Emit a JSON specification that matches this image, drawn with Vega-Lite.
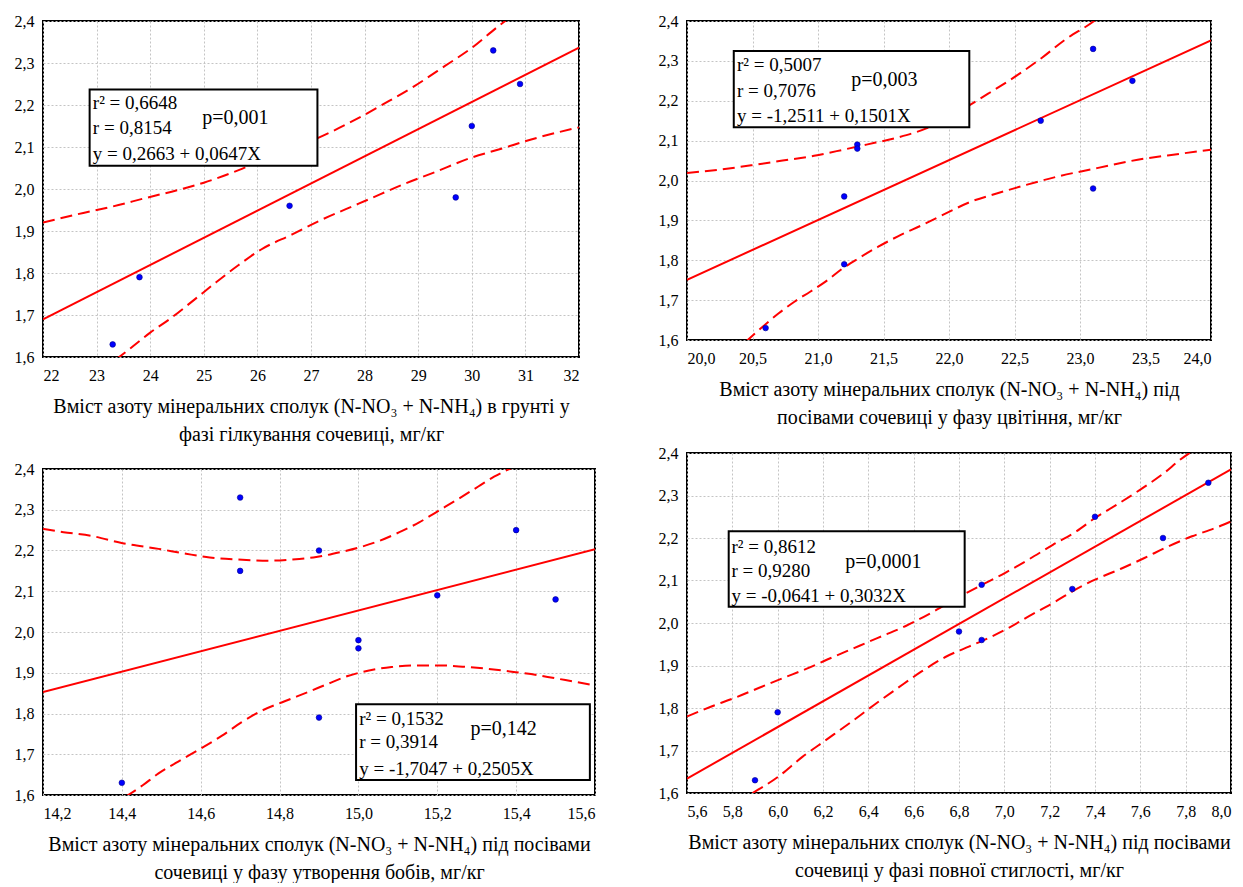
{
  "$schema": "https://vega.github.io/schema/vega-lite/v6.json",
  "background": "white",
  "padding": {"left": 13, "top": 12, "right": 0, "bottom": 0},
  "config": {
    "view": {"stroke": "black", "strokeWidth": 2},
    "font": "Liberation Serif",
    "axis": {
      "labelFont": "Liberation Serif",
      "labelFontSize": 16,
      "labelColor": "black",
      "titleFont": "Liberation Serif",
      "titleFontSize": 20,
      "titleFontWeight": "normal",
      "titleColor": "black",
      "titleLineHeight": 28,
      "grid": true,
      "gridColor": "#c4c4c4",
      "gridDash": [2, 2],
      "gridWidth": 1,
      "domain": false,
      "ticks": false,
      "labelPadding": 9
    },
    "axisX": {"labelPadding": 10, "titlePadding": 13},
    "tick": {"thickness": 1, "color": "black", "opacity": 1}
  },
  "datasets": {
    "yt": [
      {"v": 1.625}, {"v": 1.65}, {"v": 1.675}, {"v": 1.7}, {"v": 1.725}, {"v": 1.75}, {"v": 1.775},
      {"v": 1.8}, {"v": 1.825}, {"v": 1.85}, {"v": 1.875}, {"v": 1.9}, {"v": 1.925}, {"v": 1.95},
      {"v": 1.975}, {"v": 2.0}, {"v": 2.025}, {"v": 2.05}, {"v": 2.075}, {"v": 2.1}, {"v": 2.125},
      {"v": 2.15}, {"v": 2.175}, {"v": 2.2}, {"v": 2.225}, {"v": 2.25}, {"v": 2.275}, {"v": 2.3},
      {"v": 2.325}, {"v": 2.35}, {"v": 2.375}
    ],
    "p1_xt": [
      {"v": 22.25}, {"v": 22.5}, {"v": 22.75}, {"v": 23}, {"v": 23.25}, {"v": 23.5}, {"v": 23.75},
      {"v": 24}, {"v": 24.25}, {"v": 24.5}, {"v": 24.75}, {"v": 25}, {"v": 25.25}, {"v": 25.5},
      {"v": 25.75}, {"v": 26}, {"v": 26.25}, {"v": 26.5}, {"v": 26.75}, {"v": 27}, {"v": 27.25},
      {"v": 27.5}, {"v": 27.75}, {"v": 28}, {"v": 28.25}, {"v": 28.5}, {"v": 28.75}, {"v": 29},
      {"v": 29.25}, {"v": 29.5}, {"v": 29.75}, {"v": 30}, {"v": 30.25}, {"v": 30.5}, {"v": 30.75},
      {"v": 31}, {"v": 31.25}, {"v": 31.5}, {"v": 31.75}
    ],
    "p2_xt": [
      {"v": 20.1}, {"v": 20.2}, {"v": 20.3}, {"v": 20.4}, {"v": 20.5}, {"v": 20.6}, {"v": 20.7},
      {"v": 20.8}, {"v": 20.9}, {"v": 21.0}, {"v": 21.1}, {"v": 21.2}, {"v": 21.3}, {"v": 21.4},
      {"v": 21.5}, {"v": 21.6}, {"v": 21.7}, {"v": 21.8}, {"v": 21.9}, {"v": 22.0}, {"v": 22.1},
      {"v": 22.2}, {"v": 22.3}, {"v": 22.4}, {"v": 22.5}, {"v": 22.6}, {"v": 22.7}, {"v": 22.8},
      {"v": 22.9}, {"v": 23.0}, {"v": 23.1}, {"v": 23.2}, {"v": 23.3}, {"v": 23.4}, {"v": 23.5},
      {"v": 23.6}, {"v": 23.7}, {"v": 23.8}, {"v": 23.9}
    ],
    "p3_xt": [
      {"v": 14.3}, {"v": 14.4}, {"v": 14.5}, {"v": 14.6}, {"v": 14.7}, {"v": 14.8}, {"v": 14.9},
      {"v": 15.0}, {"v": 15.1}, {"v": 15.2}, {"v": 15.3}, {"v": 15.4}, {"v": 15.5}
    ],
    "p4_xt": [
      {"v": 5.7}, {"v": 5.8}, {"v": 5.9}, {"v": 6.0}, {"v": 6.1}, {"v": 6.2}, {"v": 6.3}, {"v": 6.4},
      {"v": 6.5}, {"v": 6.6}, {"v": 6.7}, {"v": 6.8}, {"v": 6.9}, {"v": 7.0}, {"v": 7.1}, {"v": 7.2},
      {"v": 7.3}, {"v": 7.4}, {"v": 7.5}, {"v": 7.6}, {"v": 7.7}, {"v": 7.8}, {"v": 7.9}
    ],
    "p1_pts": [
      {"x": 23.3, "y": 1.63}, {"x": 23.8, "y": 1.79}, {"x": 26.6, "y": 1.96},
      {"x": 29.7, "y": 1.98}, {"x": 30.0, "y": 2.15}, {"x": 30.4, "y": 2.33},
      {"x": 30.9, "y": 2.25}
    ],
    "p1_fit": [{"x": 22, "y": 1.6897}, {"x": 32, "y": 2.3367}],
    "p1_ci": [
      {"band": "upper", "x": 22.0, "y": 1.920}, {"band": "upper", "x": 22.645, "y": 1.940},
      {"band": "upper", "x": 23.29, "y": 1.958}, {"band": "upper", "x": 23.93, "y": 1.979},
      {"band": "upper", "x": 24.5, "y": 1.997}, {"band": "upper", "x": 25.0, "y": 2.015},
      {"band": "upper", "x": 25.65, "y": 2.045}, {"band": "upper", "x": 26.22, "y": 2.075},
      {"band": "upper", "x": 27.07, "y": 2.118}, {"band": "upper", "x": 27.93, "y": 2.172},
      {"band": "upper", "x": 28.35, "y": 2.202}, {"band": "upper", "x": 28.93, "y": 2.245},
      {"band": "upper", "x": 29.5, "y": 2.293}, {"band": "upper", "x": 30.0, "y": 2.336},
      {"band": "upper", "x": 30.5, "y": 2.388}, {"band": "upper", "x": 30.79, "y": 2.416},
      {"band": "lower", "x": 23.36, "y": 1.594}, {"band": "lower", "x": 23.645, "y": 1.622},
      {"band": "lower", "x": 24.0, "y": 1.658}, {"band": "lower", "x": 24.36, "y": 1.69},
      {"band": "lower", "x": 24.79, "y": 1.733}, {"band": "lower", "x": 25.22, "y": 1.777},
      {"band": "lower", "x": 25.65, "y": 1.819}, {"band": "lower", "x": 26.07, "y": 1.856},
      {"band": "lower", "x": 26.65, "y": 1.892}, {"band": "lower", "x": 27.15, "y": 1.924},
      {"band": "lower", "x": 27.65, "y": 1.952}, {"band": "lower", "x": 28.07, "y": 1.975},
      {"band": "lower", "x": 28.72, "y": 2.011}, {"band": "lower", "x": 29.29, "y": 2.039},
      {"band": "lower", "x": 30.0, "y": 2.075}, {"band": "lower", "x": 30.5, "y": 2.094},
      {"band": "lower", "x": 31.22, "y": 2.122}, {"band": "lower", "x": 32.0, "y": 2.147}
    ],
    "p1_box": [{"x": 22.87, "x2": 27.12, "y": 2.237, "y2": 2.0555}],
    "p1_stats": [
      {"x": 22.93, "y": 2.2055, "t": "r² = 0,6648"},
      {"x": 22.93, "y": 2.146, "t": "r = 0,8154"},
      {"x": 22.93, "y": 2.084, "t": "y = 0,2663 + 0,0647X"}
    ],
    "p1_p": [{"x": 24.97, "y": 2.168, "t": "p=0,001"}],

    "p2_pts": [
      {"x": 20.6, "y": 1.63}, {"x": 21.2, "y": 1.96}, {"x": 21.2, "y": 1.79},
      {"x": 21.3, "y": 2.09}, {"x": 21.3, "y": 2.08}, {"x": 22.7, "y": 2.15},
      {"x": 23.1, "y": 2.33}, {"x": 23.1, "y": 1.98}, {"x": 23.4, "y": 2.25}
    ],
    "p2_fit": [{"x": 20, "y": 1.7509}, {"x": 24, "y": 2.3513}],
    "p2_ci": [
      {"band": "upper", "x": 20.0, "y": 2.019}, {"band": "upper", "x": 20.24, "y": 2.027},
      {"band": "upper", "x": 20.49, "y": 2.038}, {"band": "upper", "x": 20.73, "y": 2.05},
      {"band": "upper", "x": 20.97, "y": 2.062}, {"band": "upper", "x": 21.19, "y": 2.077},
      {"band": "upper", "x": 21.37, "y": 2.09}, {"band": "upper", "x": 21.61, "y": 2.108},
      {"band": "upper", "x": 21.86, "y": 2.135}, {"band": "upper", "x": 22.1, "y": 2.178},
      {"band": "upper", "x": 22.31, "y": 2.22}, {"band": "upper", "x": 22.53, "y": 2.266},
      {"band": "upper", "x": 22.71, "y": 2.308}, {"band": "upper", "x": 22.89, "y": 2.354},
      {"band": "upper", "x": 23.1, "y": 2.398}, {"band": "upper", "x": 23.16, "y": 2.413},
      {"band": "lower", "x": 20.45, "y": 1.596}, {"band": "lower", "x": 20.58, "y": 1.634},
      {"band": "lower", "x": 20.7, "y": 1.667}, {"band": "lower", "x": 20.82, "y": 1.696},
      {"band": "lower", "x": 20.94, "y": 1.721}, {"band": "lower", "x": 21.06, "y": 1.747},
      {"band": "lower", "x": 21.19, "y": 1.78}, {"band": "lower", "x": 21.31, "y": 1.805},
      {"band": "lower", "x": 21.46, "y": 1.834}, {"band": "lower", "x": 21.61, "y": 1.86},
      {"band": "lower", "x": 21.8, "y": 1.889}, {"band": "lower", "x": 21.98, "y": 1.918},
      {"band": "lower", "x": 22.16, "y": 1.946}, {"band": "lower", "x": 22.37, "y": 1.968},
      {"band": "lower", "x": 22.59, "y": 1.989}, {"band": "lower", "x": 22.83, "y": 2.01},
      {"band": "lower", "x": 23.13, "y": 2.031}, {"band": "lower", "x": 23.44, "y": 2.052},
      {"band": "lower", "x": 23.74, "y": 2.066}, {"band": "lower", "x": 24.0, "y": 2.077}
    ],
    "p2_box": [{"x": 20.357, "x2": 22.155, "y": 2.3245, "y2": 2.1334}],
    "p2_stats": [
      {"x": 20.381, "y": 2.2894, "t": "r² = 0,5007"},
      {"x": 20.381, "y": 2.2257, "t": "r = 0,7076"},
      {"x": 20.381, "y": 2.1613, "t": "y = -1,2511 + 0,1501X"}
    ],
    "p2_p": [{"x": 21.253, "y": 2.2508, "t": "p=0,003"}],

    "p3_pts": [
      {"x": 14.4, "y": 1.63}, {"x": 14.7, "y": 2.33}, {"x": 14.7, "y": 2.15},
      {"x": 14.9, "y": 2.2}, {"x": 14.9, "y": 1.79}, {"x": 15.0, "y": 1.98},
      {"x": 15.0, "y": 1.96}, {"x": 15.2, "y": 2.09}, {"x": 15.4, "y": 2.25},
      {"x": 15.5, "y": 2.08}
    ],
    "p3_fit": [{"x": 14.2, "y": 1.8524}, {"x": 15.6, "y": 2.2031}],
    "p3_ci": [
      {"band": "upper", "x": 14.2, "y": 2.253}, {"band": "upper", "x": 14.252, "y": 2.245},
      {"band": "upper", "x": 14.322, "y": 2.236}, {"band": "upper", "x": 14.402, "y": 2.218},
      {"band": "upper", "x": 14.493, "y": 2.204}, {"band": "upper", "x": 14.563, "y": 2.192},
      {"band": "upper", "x": 14.623, "y": 2.183}, {"band": "upper", "x": 14.693, "y": 2.178},
      {"band": "upper", "x": 14.773, "y": 2.175}, {"band": "upper", "x": 14.833, "y": 2.178},
      {"band": "upper", "x": 14.893, "y": 2.184}, {"band": "upper", "x": 14.954, "y": 2.196},
      {"band": "upper", "x": 15.004, "y": 2.208}, {"band": "upper", "x": 15.054, "y": 2.224},
      {"band": "upper", "x": 15.104, "y": 2.245}, {"band": "upper", "x": 15.154, "y": 2.269},
      {"band": "upper", "x": 15.204, "y": 2.298}, {"band": "upper", "x": 15.254, "y": 2.327},
      {"band": "upper", "x": 15.304, "y": 2.357}, {"band": "upper", "x": 15.344, "y": 2.381},
      {"band": "upper", "x": 15.394, "y": 2.405},
      {"band": "lower", "x": 14.41, "y": 1.596}, {"band": "lower", "x": 14.453, "y": 1.624},
      {"band": "lower", "x": 14.493, "y": 1.653}, {"band": "lower", "x": 14.543, "y": 1.682},
      {"band": "lower", "x": 14.593, "y": 1.71}, {"band": "lower", "x": 14.653, "y": 1.745},
      {"band": "lower", "x": 14.703, "y": 1.778}, {"band": "lower", "x": 14.753, "y": 1.806},
      {"band": "lower", "x": 14.813, "y": 1.83}, {"band": "lower", "x": 14.873, "y": 1.853},
      {"band": "lower", "x": 14.923, "y": 1.873}, {"band": "lower", "x": 14.973, "y": 1.892},
      {"band": "lower", "x": 15.024, "y": 1.905}, {"band": "lower", "x": 15.084, "y": 1.914},
      {"band": "lower", "x": 15.144, "y": 1.918}, {"band": "lower", "x": 15.204, "y": 1.918},
      {"band": "lower", "x": 15.264, "y": 1.915}, {"band": "lower", "x": 15.324, "y": 1.91},
      {"band": "lower", "x": 15.394, "y": 1.902}, {"band": "lower", "x": 15.455, "y": 1.894},
      {"band": "lower", "x": 15.525, "y": 1.882}, {"band": "lower", "x": 15.6, "y": 1.869}
    ],
    "p3_box": [{"x": 14.994, "x2": 15.587, "y": 1.823, "y2": 1.637}],
    "p3_stats": [
      {"x": 15.002, "y": 1.786, "t": "r² = 0,1532"},
      {"x": 15.002, "y": 1.729, "t": "r = 0,3914"},
      {"x": 15.002, "y": 1.665, "t": "y = -1,7047 + 0,2505X"}
    ],
    "p3_p": [{"x": 15.284, "y": 1.762, "t": "p=0,142"}],

    "p4_pts": [
      {"x": 5.9, "y": 1.63}, {"x": 6.0, "y": 1.79}, {"x": 6.8, "y": 1.98},
      {"x": 6.9, "y": 2.09}, {"x": 6.9, "y": 1.96}, {"x": 7.3, "y": 2.08},
      {"x": 7.4, "y": 2.25}, {"x": 7.7, "y": 2.2}, {"x": 7.9, "y": 2.33}
    ],
    "p4_fit": [{"x": 5.6, "y": 1.6338}, {"x": 8.0, "y": 2.3615}],
    "p4_ci": [
      {"band": "upper", "x": 5.6, "y": 1.78}, {"band": "upper", "x": 5.705, "y": 1.803},
      {"band": "upper", "x": 5.811, "y": 1.824}, {"band": "upper", "x": 5.916, "y": 1.847},
      {"band": "upper", "x": 6.021, "y": 1.87}, {"band": "upper", "x": 6.126, "y": 1.892},
      {"band": "upper", "x": 6.232, "y": 1.917}, {"band": "upper", "x": 6.337, "y": 1.941},
      {"band": "upper", "x": 6.442, "y": 1.965}, {"band": "upper", "x": 6.565, "y": 1.993},
      {"band": "upper", "x": 6.688, "y": 2.027}, {"band": "upper", "x": 6.793, "y": 2.059},
      {"band": "upper", "x": 6.902, "y": 2.09}, {"band": "upper", "x": 7.004, "y": 2.118},
      {"band": "upper", "x": 7.109, "y": 2.15}, {"band": "upper", "x": 7.214, "y": 2.184},
      {"band": "upper", "x": 7.319, "y": 2.216}, {"band": "upper", "x": 7.4, "y": 2.247},
      {"band": "upper", "x": 7.495, "y": 2.278}, {"band": "upper", "x": 7.6, "y": 2.314},
      {"band": "upper", "x": 7.705, "y": 2.353}, {"band": "upper", "x": 7.775, "y": 2.384},
      {"band": "upper", "x": 7.828, "y": 2.404},
      {"band": "lower", "x": 5.889, "y": 1.6}, {"band": "lower", "x": 6.004, "y": 1.639},
      {"band": "lower", "x": 6.109, "y": 1.685}, {"band": "lower", "x": 6.214, "y": 1.725},
      {"band": "lower", "x": 6.319, "y": 1.765}, {"band": "lower", "x": 6.425, "y": 1.807},
      {"band": "lower", "x": 6.53, "y": 1.847}, {"band": "lower", "x": 6.635, "y": 1.886},
      {"band": "lower", "x": 6.74, "y": 1.92}, {"band": "lower", "x": 6.846, "y": 1.945},
      {"band": "lower", "x": 6.902, "y": 1.958}, {"band": "lower", "x": 7.004, "y": 1.984},
      {"band": "lower", "x": 7.109, "y": 2.016}, {"band": "lower", "x": 7.214, "y": 2.047},
      {"band": "lower", "x": 7.302, "y": 2.075}, {"band": "lower", "x": 7.4, "y": 2.102},
      {"band": "lower", "x": 7.512, "y": 2.127}, {"band": "lower", "x": 7.618, "y": 2.153},
      {"band": "lower", "x": 7.723, "y": 2.18}, {"band": "lower", "x": 7.828, "y": 2.204},
      {"band": "lower", "x": 7.933, "y": 2.224}, {"band": "lower", "x": 8.0, "y": 2.239}
    ],
    "p4_box": [{"x": 5.784, "x2": 6.825, "y": 2.216, "y2": 2.038}],
    "p4_stats": [
      {"x": 5.796, "y": 2.178, "t": "r² = 0,8612"},
      {"x": 5.796, "y": 2.122, "t": "r = 0,9280"},
      {"x": 5.796, "y": 2.064, "t": "y = -0,0641 + 0,3032X"}
    ],
    "p4_p": [{"x": 6.298, "y": 2.144, "t": "p=0,0001"}]
  },
  "spacing": 61,
  "hconcat": [
    {
      "spacing": 15,
      "vconcat": [
        {
          "width": 536,
          "height": 336,
          "encoding": {
            "x": {"field": "x", "type": "quantitative",
              "scale": {"domain": [22, 32], "nice": false, "zero": false},
              "axis": {"values": [22, 23, 24, 25, 26, 27, 28, 29, 30, 31, 32], "labelExpr": "format(datum.value, 'd')",
                "title": ["Вміст азоту мінеральних сполук (N-NO₃ + N-NH₄) в грунті у", "фазі гілкування сочевиці, мг/кг"]}},
            "y": {"field": "y", "type": "quantitative",
              "scale": {"domain": [1.6, 2.4], "nice": false, "zero": false},
              "axis": {"values": [1.6, 1.7, 1.8, 1.9, 2.0, 2.1, 2.2, 2.3, 2.4], "labelExpr": "replace(format(datum.value, '.1f'), '.', ',')", "title": null}}
          },
          "layer": [
            {"data": {"name": "p1_xt"}, "mark": {"type": "tick", "orient": "vertical", "size": 10, "clip": true},
             "encoding": {"x": {"field": "v", "type": "quantitative"}, "y": {"datum": 2.4}}},
            {"data": {"name": "p1_xt"}, "mark": {"type": "tick", "orient": "vertical", "size": 10, "clip": true},
             "encoding": {"x": {"field": "v", "type": "quantitative"}, "y": {"datum": 1.6}}},
            {"data": {"name": "yt"}, "mark": {"type": "tick", "orient": "horizontal", "size": 10, "clip": true},
             "encoding": {"y": {"field": "v", "type": "quantitative"}, "x": {"datum": 22}}},
            {"data": {"name": "yt"}, "mark": {"type": "tick", "orient": "horizontal", "size": 10, "clip": true},
             "encoding": {"y": {"field": "v", "type": "quantitative"}, "x": {"datum": 32}}},
            {"data": {"name": "p1_ci"},
             "mark": {"type": "line", "color": "#ff0000", "strokeWidth": 2, "strokeDash": [12, 6], "interpolate": "monotone", "clip": true},
             "encoding": {"detail": {"field": "band"}}},
            {"data": {"name": "p1_fit"},
             "mark": {"type": "line", "color": "#ff0000", "strokeWidth": 2, "clip": true}},
            {"data": {"name": "p1_box"},
             "mark": {"type": "rect", "fill": "white", "stroke": "black", "strokeWidth": 2},
             "encoding": {"x2": {"field": "x2"}, "y2": {"field": "y2"}}},
            {"data": {"name": "p1_stats"},
             "mark": {"type": "text", "align": "left", "baseline": "middle", "fontSize": 19, "font": "Liberation Serif", "color": "black"},
             "encoding": {"text": {"field": "t"}}},
            {"data": {"name": "p1_p"},
             "mark": {"type": "text", "align": "left", "baseline": "middle", "fontSize": 20, "font": "Liberation Serif", "color": "black"},
             "encoding": {"text": {"field": "t"}}},
            {"data": {"name": "p1_pts"},
             "mark": {"type": "circle", "size": 32, "color": "#0000ff", "opacity": 1, "stroke": "#00008b", "strokeWidth": 0.6}}
          ]
        },
        {
          "width": 552,
          "height": 326,
          "encoding": {
            "x": {"field": "x", "type": "quantitative",
              "scale": {"domain": [14.2, 15.6], "nice": false, "zero": false},
              "axis": {"values": [14.2, 14.4, 14.6, 14.8, 15.0, 15.2, 15.4, 15.6], "labelExpr": "replace(format(datum.value, '.1f'), '.', ',')",
                "title": ["Вміст азоту мінеральних сполук (N-NO₃ + N-NH₄) під посівами", "сочевиці у фазу утворення бобів, мг/кг"]}},
            "y": {"field": "y", "type": "quantitative",
              "scale": {"domain": [1.6, 2.4], "nice": false, "zero": false},
              "axis": {"values": [1.6, 1.7, 1.8, 1.9, 2.0, 2.1, 2.2, 2.3, 2.4], "labelExpr": "replace(format(datum.value, '.1f'), '.', ',')", "title": null}}
          },
          "layer": [
            {"data": {"name": "p3_xt"}, "mark": {"type": "tick", "orient": "vertical", "size": 10, "clip": true},
             "encoding": {"x": {"field": "v", "type": "quantitative"}, "y": {"datum": 2.4}}},
            {"data": {"name": "p3_xt"}, "mark": {"type": "tick", "orient": "vertical", "size": 10, "clip": true},
             "encoding": {"x": {"field": "v", "type": "quantitative"}, "y": {"datum": 1.6}}},
            {"data": {"name": "yt"}, "mark": {"type": "tick", "orient": "horizontal", "size": 10, "clip": true},
             "encoding": {"y": {"field": "v", "type": "quantitative"}, "x": {"datum": 14.2}}},
            {"data": {"name": "yt"}, "mark": {"type": "tick", "orient": "horizontal", "size": 10, "clip": true},
             "encoding": {"y": {"field": "v", "type": "quantitative"}, "x": {"datum": 15.6}}},
            {"data": {"name": "p3_ci"},
             "mark": {"type": "line", "color": "#ff0000", "strokeWidth": 2, "strokeDash": [12, 6], "interpolate": "monotone", "clip": true},
             "encoding": {"detail": {"field": "band"}}},
            {"data": {"name": "p3_fit"},
             "mark": {"type": "line", "color": "#ff0000", "strokeWidth": 2, "clip": true}},
            {"data": {"name": "p3_box"},
             "mark": {"type": "rect", "fill": "white", "stroke": "black", "strokeWidth": 2},
             "encoding": {"x2": {"field": "x2"}, "y2": {"field": "y2"}}},
            {"data": {"name": "p3_stats"},
             "mark": {"type": "text", "align": "left", "baseline": "middle", "fontSize": 19, "font": "Liberation Serif", "color": "black"},
             "encoding": {"text": {"field": "t"}}},
            {"data": {"name": "p3_p"},
             "mark": {"type": "text", "align": "left", "baseline": "middle", "fontSize": 20, "font": "Liberation Serif", "color": "black"},
             "encoding": {"text": {"field": "t"}}},
            {"data": {"name": "p3_pts"},
             "mark": {"type": "circle", "size": 32, "color": "#0000ff", "opacity": 1, "stroke": "#00008b", "strokeWidth": 0.6}}
          ]
        }
      ]
    },
    {
      "spacing": 16,
      "vconcat": [
        {
          "width": 524,
          "height": 319,
          "encoding": {
            "x": {"field": "x", "type": "quantitative",
              "scale": {"domain": [20, 24], "nice": false, "zero": false},
              "axis": {"values": [20, 20.5, 21, 21.5, 22, 22.5, 23, 23.5, 24], "labelExpr": "replace(format(datum.value, '.1f'), '.', ',')",
                "title": ["Вміст азоту мінеральних сполук (N-NO₃ + N-NH₄) під", "посівами сочевиці у фазу цвітіння, мг/кг"]}},
            "y": {"field": "y", "type": "quantitative",
              "scale": {"domain": [1.6, 2.4], "nice": false, "zero": false},
              "axis": {"values": [1.6, 1.7, 1.8, 1.9, 2.0, 2.1, 2.2, 2.3, 2.4], "labelExpr": "replace(format(datum.value, '.1f'), '.', ',')", "title": null}}
          },
          "layer": [
            {"data": {"name": "p2_xt"}, "mark": {"type": "tick", "orient": "vertical", "size": 10, "clip": true},
             "encoding": {"x": {"field": "v", "type": "quantitative"}, "y": {"datum": 2.4}}},
            {"data": {"name": "p2_xt"}, "mark": {"type": "tick", "orient": "vertical", "size": 10, "clip": true},
             "encoding": {"x": {"field": "v", "type": "quantitative"}, "y": {"datum": 1.6}}},
            {"data": {"name": "yt"}, "mark": {"type": "tick", "orient": "horizontal", "size": 10, "clip": true},
             "encoding": {"y": {"field": "v", "type": "quantitative"}, "x": {"datum": 20}}},
            {"data": {"name": "yt"}, "mark": {"type": "tick", "orient": "horizontal", "size": 10, "clip": true},
             "encoding": {"y": {"field": "v", "type": "quantitative"}, "x": {"datum": 24}}},
            {"data": {"name": "p2_ci"},
             "mark": {"type": "line", "color": "#ff0000", "strokeWidth": 2, "strokeDash": [12, 6], "interpolate": "monotone", "clip": true},
             "encoding": {"detail": {"field": "band"}}},
            {"data": {"name": "p2_fit"},
             "mark": {"type": "line", "color": "#ff0000", "strokeWidth": 2, "clip": true}},
            {"data": {"name": "p2_box"},
             "mark": {"type": "rect", "fill": "white", "stroke": "black", "strokeWidth": 2},
             "encoding": {"x2": {"field": "x2"}, "y2": {"field": "y2"}}},
            {"data": {"name": "p2_stats"},
             "mark": {"type": "text", "align": "left", "baseline": "middle", "fontSize": 19, "font": "Liberation Serif", "color": "black"},
             "encoding": {"text": {"field": "t"}}},
            {"data": {"name": "p2_p"},
             "mark": {"type": "text", "align": "left", "baseline": "middle", "fontSize": 20, "font": "Liberation Serif", "color": "black"},
             "encoding": {"text": {"field": "t"}}},
            {"data": {"name": "p2_pts"},
             "mark": {"type": "circle", "size": 32, "color": "#0000ff", "opacity": 1, "stroke": "#00008b", "strokeWidth": 0.6}}
          ]
        },
        {
          "width": 544,
          "height": 340,
          "encoding": {
            "x": {"field": "x", "type": "quantitative",
              "scale": {"domain": [5.6, 8.0], "nice": false, "zero": false},
              "axis": {"values": [5.6, 5.8, 6.0, 6.2, 6.4, 6.6, 6.8, 7.0, 7.2, 7.4, 7.6, 7.8, 8.0], "labelExpr": "replace(format(datum.value, '.1f'), '.', ',')",
                "title": ["Вміст азоту мінеральних сполук (N-NO₃ + N-NH₄) під посівами", "сочевиці у фазі повної стиглості, мг/кг"]}},
            "y": {"field": "y", "type": "quantitative",
              "scale": {"domain": [1.6, 2.4], "nice": false, "zero": false},
              "axis": {"values": [1.6, 1.7, 1.8, 1.9, 2.0, 2.1, 2.2, 2.3, 2.4], "labelExpr": "replace(format(datum.value, '.1f'), '.', ',')", "title": null}}
          },
          "layer": [
            {"data": {"name": "p4_xt"}, "mark": {"type": "tick", "orient": "vertical", "size": 10, "clip": true},
             "encoding": {"x": {"field": "v", "type": "quantitative"}, "y": {"datum": 2.4}}},
            {"data": {"name": "p4_xt"}, "mark": {"type": "tick", "orient": "vertical", "size": 10, "clip": true},
             "encoding": {"x": {"field": "v", "type": "quantitative"}, "y": {"datum": 1.6}}},
            {"data": {"name": "yt"}, "mark": {"type": "tick", "orient": "horizontal", "size": 10, "clip": true},
             "encoding": {"y": {"field": "v", "type": "quantitative"}, "x": {"datum": 5.6}}},
            {"data": {"name": "yt"}, "mark": {"type": "tick", "orient": "horizontal", "size": 10, "clip": true},
             "encoding": {"y": {"field": "v", "type": "quantitative"}, "x": {"datum": 8.0}}},
            {"data": {"name": "p4_ci"},
             "mark": {"type": "line", "color": "#ff0000", "strokeWidth": 2, "strokeDash": [12, 6], "interpolate": "monotone", "clip": true},
             "encoding": {"detail": {"field": "band"}}},
            {"data": {"name": "p4_fit"},
             "mark": {"type": "line", "color": "#ff0000", "strokeWidth": 2, "clip": true}},
            {"data": {"name": "p4_box"},
             "mark": {"type": "rect", "fill": "white", "stroke": "black", "strokeWidth": 2},
             "encoding": {"x2": {"field": "x2"}, "y2": {"field": "y2"}}},
            {"data": {"name": "p4_stats"},
             "mark": {"type": "text", "align": "left", "baseline": "middle", "fontSize": 19, "font": "Liberation Serif", "color": "black"},
             "encoding": {"text": {"field": "t"}}},
            {"data": {"name": "p4_p"},
             "mark": {"type": "text", "align": "left", "baseline": "middle", "fontSize": 20, "font": "Liberation Serif", "color": "black"},
             "encoding": {"text": {"field": "t"}}},
            {"data": {"name": "p4_pts"},
             "mark": {"type": "circle", "size": 32, "color": "#0000ff", "opacity": 1, "stroke": "#00008b", "strokeWidth": 0.6}}
          ]
        }
      ]
    }
  ]
}
